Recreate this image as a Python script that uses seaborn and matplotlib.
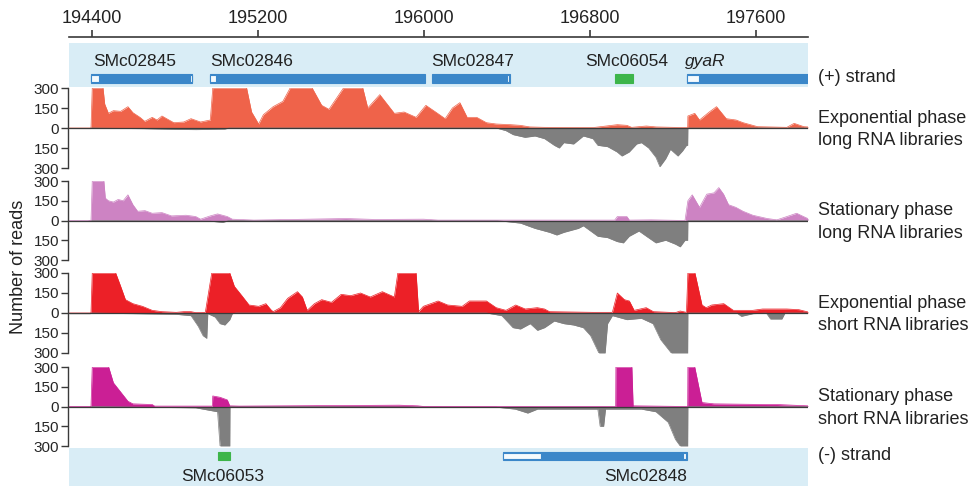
import matplotlib
matplotlib.use('Agg')
import matplotlib.pyplot as plt
import seaborn as sns

sns.set_theme(style='ticks')
plt.rcParams['font.family'] = ['Liberation Sans', 'DejaVu Sans']

# genome window and ruler
x_start, x_end = 194289, 197851
ruler_ticks = [194400, 195200, 196000, 196800, 197600]
y_ticks = [-300, -150, 0, 150, 300]
y_tick_labels = ['300', '150', '0', '150', '300']

# (+) strand genes
plus_names = ['SMc02845', 'SMc02846', 'SMc02847', 'SMc06054', 'gyaR']
plus_start = [194394, 194969, 196037, 196920, 197266]
plus_end = [194883, 196005, 196414, 197007, 197900]
plus_kind = ['cds', 'cds', 'cds', 'srna', 'cds']
plus_open = [(194394, 194434), (194870, 194880), (194969, 194998),
             (196400, 196410), (197266, 197325)]
plus_label_x = [194405, 194969, 196034, 196978, 197258]
plus_label_ha = ['left', 'left', 'left', 'center', 'left']

# (-) strand genes
minus_names = ['SMc06053', 'SMc02848']
minus_start = [195007, 196379]
minus_end = [195065, 197266]
minus_kind = ['srna', 'cds']
minus_open = [(196379, 196564), (197250, 197263)]
minus_label_x = [195030, 197270]
minus_label_ha = ['center', 'right']

# Exponential phase, long RNA libraries
exp_long_plus_pos = [194289, 194395, 194401, 194453, 194461, 194479, 194503, 194538, 194573, 194597,
                     194631, 194654, 194690, 194713, 194737, 194771, 194794, 194842, 194877, 194923,
                     194970, 194982, 195145, 195169, 195203, 195226, 195273, 195320, 195355, 195461,
                     195507, 195542, 195612, 195705, 195729, 195787, 195822, 195857, 195904, 195962,
                     196009, 196056, 196102, 196137, 196173, 196208, 196254, 196301, 196348, 196417,
                     196464, 196511, 196581, 196814, 196932, 196978, 197001, 197072, 197119, 197258,
                     197271, 197272, 197305, 197328, 197375, 197410, 197457, 197504, 197538, 197608,
                     197749, 197784, 197831, 197851]
exp_long_plus_val = [0, 0, 300, 300, 180, 110, 130, 125, 160, 115,
                     80, 50, 80, 60, 90, 60, 40, 45, 70, 45,
                     60, 300, 300, 120, 30, 100, 160, 200, 300, 300,
                     170, 140, 300, 300, 150, 250, 180, 110, 120, 80,
                     170, 120, 70, 150, 190, 80, 80, 40, 30, 25,
                     20, 8, 5, 3, 25, 20, 5, 15, 8, 3,
                     3, 90, 110, 60, 120, 160, 70, 60, 40, 10,
                     5, 35, 10, 8]
exp_long_minus_pos = [194289, 194390, 194395, 194650, 194800, 194900, 195040, 195060, 196348, 196395,
                      196430, 196487, 196535, 196581, 196628, 196652, 196674, 196721, 196768, 196814,
                      196838, 196885, 196931, 196954, 196989, 197025, 197048, 197083, 197118, 197137,
                      197165, 197188, 197224, 197247, 197265, 197271, 197272, 197851]
exp_long_minus_val = [-4, -4, 0, -5, -10, -12, -8, 0, 0, -20,
                      -50, -70, -60, -80, -130, -150, -110, -120, -60, -80,
                      -130, -140, -180, -210, -180, -120, -110, -150, -220, -290,
                      -230, -160, -210, -170, -130, -130, 0, 0]

# Stationary phase, long RNA libraries
stat_long_plus_pos = [194289, 194395, 194401, 194457, 194464, 194479, 194503, 194526, 194550, 194573,
                      194597, 194620, 194655, 194690, 194737, 194783, 194853, 194900, 194923, 194970,
                      195005, 195052, 195076, 195180, 195366, 195624, 195764, 195998, 196068, 196919,
                      196932, 196978, 196990, 197095, 197258, 197272, 197293, 197328, 197363, 197398,
                      197421, 197444, 197468, 197503, 197538, 197585, 197655, 197701, 197749, 197796,
                      197843, 197851]
stat_long_plus_val = [0, 0, 300, 300, 170, 150, 140, 160, 150, 195,
                      120, 70, 75, 55, 60, 35, 40, 30, 10, 35,
                      50, 30, 10, 3, 8, 15, 8, 10, 3, 3,
                      30, 30, 3, 5, 0, 150, 195, 100, 200, 210,
                      250, 200, 120, 100, 70, 40, 15, 5, 30, 55,
                      20, 15]
stat_long_minus_pos = [194289, 194380, 194390, 194970, 195030, 195060, 196348, 196465, 196535, 196605,
                       196640, 196674, 196744, 196768, 196803, 196838, 196885, 196931, 196961, 196989,
                       197036, 197072, 197118, 197165, 197212, 197235, 197258, 197271, 197272, 197851]
stat_long_minus_val = [-5, -5, 0, -5, -15, 0, 0, -20, -60, -90,
                       -110, -90, -60, -40, -80, -120, -130, -160, -170, -120,
                       -80, -120, -170, -150, -180, -200, -150, -150, 0, 0]

# Exponential phase, short RNA libraries
exp_short_plus_pos = [194289, 194395, 194401, 194514, 194538, 194561, 194597, 194643, 194690, 194737,
                      194806, 194842, 194877, 194900, 194946, 194977, 195064, 195086, 195122, 195157,
                      195203, 195238, 195262, 195273, 195308, 195343, 195390, 195414, 195437, 195472,
                      195507, 195554, 195601, 195647, 195694, 195741, 195799, 195857, 195874, 195962,
                      195974, 195997, 196068, 196114, 196184, 196219, 196301, 196348, 196395, 196442,
                      196488, 196546, 196581, 196605, 196814, 196908, 196932, 196966, 196990, 197013,
                      197071, 197106, 197212, 197235, 197265, 197272, 197306, 197340, 197360, 197387,
                      197445, 197491, 197585, 197632, 197749, 197807, 197851]
exp_short_plus_val = [0, 0, 300, 300, 200, 100, 70, 50, 20, 10,
                      5, 10, 10, 3, 5, 300, 300, 200, 130, 60,
                      50, 70, 25, 10, 40, 110, 160, 120, 20, 70,
                      100, 80, 140, 130, 150, 120, 160, 120, 300, 300,
                      10, 50, 90, 60, 50, 90, 90, 40, 20, 60,
                      30, 40, 30, 10, 5, 5, 150, 100, 90, 20,
                      40, 10, 3, 15, 5, 300, 300, 60, 40, 60,
                      70, 20, 20, 30, 30, 25, 8]
exp_short_minus_pos = [194289, 194390, 194395, 194806, 194877, 194912, 194935, 194953, 194958, 194993,
                       195017, 195040, 195064, 195076, 195095, 196301, 196375, 196429, 196465, 196512,
                       196547, 196581, 196628, 196674, 196721, 196768, 196803, 196843, 196873, 196885,
                       196908, 196932, 196978, 197048, 197104, 197141, 197192, 197271, 197272, 197508,
                       197530, 197586, 197650, 197670, 197725, 197740, 197851]
exp_short_minus_val = [-5, -5, 0, -10, -20, -100, -170, -190, -5, -30,
                       -80, -90, -50, -5, 0, 0, -20, -110, -120, -80,
                       -130, -110, -60, -80, -90, -110, -170, -300, -300, -80,
                       -20, -30, -50, -40, -80, -200, -300, -300, 0, 0,
                       -25, -5, 0, -45, -45, 0, 0]

# Stationary phase, short RNA libraries
stat_short_plus_pos = [194289, 194395, 194401, 194480, 194503, 194538, 194573, 194597, 194690, 194702,
                       194980, 194982, 195017, 195052, 195064, 195110, 195880, 195970, 196000, 196924,
                       196925, 197002, 197008, 197271, 197272, 197305, 197340, 197398, 197655, 197702,
                       197851]
stat_short_plus_val = [0, 0, 300, 300, 180, 110, 40, 20, 15, 3,
                       3, 80, 70, 50, 5, 3, 10, 5, 0, 0,
                       300, 300, 5, 0, 300, 300, 30, 20, 15, 15,
                       5]
stat_short_minus_pos = [194289, 194390, 194395, 194900, 194970, 195005, 195017, 195064, 195065, 196348,
                        196440, 196500, 196547, 196838, 196849, 196866, 196875, 197048, 197118, 197177,
                        197212, 197235, 197271, 197272, 197851]
stat_short_minus_val = [-5, -5, 0, -10, -30, -40, -300, -300, 0, -5,
                        -20, -50, -20, -20, -150, -150, -20, -20, -40, -120,
                        -250, -300, -300, 0, 0]

W, H = 975, 486
fig = plt.figure(figsize=(W / 100, H / 100), dpi=100)


def px_axes(x0, y0, x1, y1):
    return fig.add_axes([x0 / W, 1 - y1 / H, (x1 - x0) / W, (y1 - y0) / H])


blue = '#3B87C9'
band = '#D9EDF6'
green = '#3DB54A'
gray = '#7F7F7F'
dark = '#3A3A3A'

# ruler on top
ax = px_axes(69, 37, 808, 38)
ax.set_xlim(x_start, x_end)
ax.xaxis.tick_top()
ax.set_xticks(ruler_ticks)
ax.set_xticklabels([str(t) for t in ruler_ticks], fontsize=13, color='#222222')
ax.tick_params(axis='x', direction='out', length=5, width=1.2, color=dark, pad=2)
ax.set_yticks([])
for s in ['left', 'right', 'bottom']:
    ax.spines[s].set_visible(False)
ax.spines['top'].set_color(dark)
ax.spines['top'].set_linewidth(1.2)
ax.patch.set_alpha(0)


def gene_band(ax, names, starts, ends, kinds, opens, yc, h):
    ax.set_facecolor(band)
    ax.set_xlim(x_start, x_end)
    ax.set_ylim(0, 1)
    ax.set_xticks([])
    ax.set_yticks([])
    for s in ax.spines.values():
        s.set_visible(False)
    for st, en, kd in zip(starts, ends, kinds):
        c = green if kd == 'srna' else blue
        ax.barh(yc, en - st, left=st, height=h, color=c, edgecolor=c, linewidth=0.8)
    for st, en in opens:
        ax.barh(yc, en - st, left=st, height=h * 0.75, color='#F4FAFD', edgecolor=blue, linewidth=0.8)


ax = px_axes(69, 43, 808, 87)
gene_band(ax, plus_names, plus_start, plus_end, plus_kind, plus_open, 0.19, 0.2)
for nm, lx, ha in zip(plus_names, plus_label_x, plus_label_ha):
    ax.text(lx, 0.57, nm, ha=ha, va='center', fontsize=12.5, color='#222222',
            style='italic' if nm == 'gyaR' else 'normal')

ax = px_axes(69, 448, 808, 486)
gene_band(ax, minus_names, minus_start, minus_end, minus_kind, minus_open, 0.79, 0.21)
for nm, lx, ha in zip(minus_names, minus_label_x, minus_label_ha):
    ax.text(lx, 0.24, nm, ha=ha, va='center', fontsize=12.5, color='#222222')

fig.text(818 / W, 1 - 77 / H, '(+) strand', ha='left', va='center', fontsize=13, color='#222222')
fig.text(818 / W, 1 - 455 / H, '(-) strand', ha='left', va='center', fontsize=13, color='#222222')

panels = [
    (exp_long_plus_pos, exp_long_plus_val, exp_long_minus_pos, exp_long_minus_val,
     '#EF634A', 88, 168, 'Exponential phase\nlong RNA libraries'),
    (stat_long_plus_pos, stat_long_plus_val, stat_long_minus_pos, stat_long_minus_val,
     '#CD83C3', 181, 260, 'Stationary phase\nlong RNA libraries'),
    (exp_short_plus_pos, exp_short_plus_val, exp_short_minus_pos, exp_short_minus_val,
     '#EC2027', 273, 353, 'Exponential phase\nshort RNA libraries'),
    (stat_short_plus_pos, stat_short_plus_val, stat_short_minus_pos, stat_short_minus_val,
     '#CB1F95', 367, 446, 'Stationary phase\nshort RNA libraries'),
]

for ppos, pval, mpos, mval, col, top, bot, label in panels:
    ax = px_axes(69, top, 808, bot)
    ax.fill_between(mpos, mval, 0, color=gray, lw=0)
    ax.fill_between(ppos, pval, 0, color=col, lw=0)
    sns.lineplot(x=mpos, y=mval, ax=ax, color=gray, lw=0.5, estimator=None, sort=False)
    sns.lineplot(x=ppos, y=pval, ax=ax, color=col, lw=0.5, estimator=None, sort=False)
    ax.axhline(0, color=dark, lw=0.9)
    ax.set_xlim(x_start, x_end)
    ax.set_ylim(-300, 300)
    ax.set_xticks([])
    ax.set_yticks(y_ticks)
    ax.set_yticklabels(y_tick_labels, fontsize=11.5, color='#222222')
    ax.tick_params(axis='y', direction='out', length=5, width=1, color=dark, pad=1)
    ax.set_xlabel('')
    ax.set_ylabel('')
    for s in ['top', 'right', 'bottom']:
        ax.spines[s].set_visible(False)
    ax.spines['left'].set_color(dark)
    ax.spines['left'].set_linewidth(1)
    ax.spines['left'].set_position(('outward', 1))
    ax.patch.set_alpha(0)
    fig.text(818 / W, 1 - ((top + bot) / 2 + 1.5) / H, label, ha='left', va='center',
             fontsize=13, color='#222222', linespacing=1.4)

fig.text(19 / W, 1 - 267 / H, 'Number of reads', rotation=90, ha='center', va='center',
         fontsize=13, color='#222222')

fig.savefig('out.png', dpi=100)
